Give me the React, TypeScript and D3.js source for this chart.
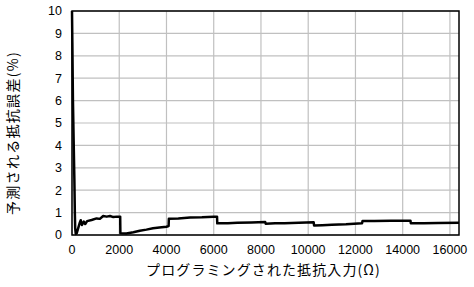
import React from "react";
import * as d3 from "d3";

// programmed resistance (ohm) and predicted error (%)
const resistance = [
  0, 15, 40, 70, 100, 120, 135, 160, 200, 260, 330, 370, 420, 500, 560, 640,
  830, 1040, 1180, 1320, 1470, 1610, 1750, 1900, 2040, 2048, 2300, 2600, 2870,
  3150, 3430, 3700, 4000, 4090, 4100, 4500, 5000, 5500, 6000, 6140, 6150, 6600,
  7000, 7600, 8180, 8200, 8600, 9000, 9600, 10230, 10250, 10600, 11000, 11600,
  12280, 12300, 12800, 13500, 14330, 14345, 14900, 15500, 16383,
];
const errorPct = [
  10, 8.6, 6, 4.2, 2.5, 1.0, 0.3, 0.05, 0.08, 0.3, 0.55, 0.66, 0.45, 0.6, 0.49,
  0.62, 0.67, 0.74, 0.72, 0.85, 0.82, 0.85, 0.8, 0.82, 0.82, 0.08, 0.07, 0.12,
  0.19, 0.24, 0.3, 0.33, 0.37, 0.4, 0.72, 0.74, 0.78, 0.79, 0.82, 0.82, 0.52,
  0.53, 0.55, 0.56, 0.58, 0.5, 0.52, 0.53, 0.55, 0.57, 0.42, 0.44, 0.46, 0.48,
  0.52, 0.62, 0.62, 0.64, 0.64, 0.52, 0.53, 0.54, 0.55,
];
const xTicks = [0, 2000, 4000, 6000, 8000, 10000, 12000, 14000, 16000];
const yTicks = [0, 1, 2, 3, 4, 5, 6, 7, 8, 9, 10];

const xTitle = "プログラミングされた抵抗入力(Ω)";
const yTitle = "予測される抵抗誤差(%)";

export default function App() {
  const width = 474;
  const height = 287;
  const margin = { top: 11, right: 15, bottom: 52, left: 72 };
  const iw = width - margin.left - margin.right;
  const ih = height - margin.top - margin.bottom;

  const x = d3.scaleLinear().domain([0, 16384]).range([0, iw]);
  const y = d3.scaleLinear().domain([0, 10]).range([ih, 0]);

  const pts: [number, number][] = resistance.map((r, i) => [r, errorPct[i]]);
  const line = d3
    .line<[number, number]>()
    .x((d) => x(d[0]))
    .y((d) => y(d[1]));

  const numFont = "'Liberation Sans', Arial, sans-serif";
  const jpFont = "'Noto Sans CJK JP', sans-serif";

  return (
    <svg
      width={width}
      height={height}
      style={{ position: "absolute", left: 0, top: 0, background: "#fff" }}
    >
      <g transform={`translate(${margin.left},${margin.top})`}>
        {xTicks.map((t) => (
          <line key={"gx" + t} x1={x(t)} x2={x(t)} y1={0} y2={ih} stroke="#c0c0c0" strokeWidth={1.2} />
        ))}
        {yTicks.map((t) => (
          <line key={"gy" + t} x1={0} x2={iw} y1={y(t)} y2={y(t)} stroke="#c0c0c0" strokeWidth={1.2} />
        ))}
        <rect x={0} y={0} width={iw} height={ih} fill="none" stroke="#000" strokeWidth={1.5} />
        <path d={line(pts) || ""} fill="none" stroke="#000" strokeWidth={2.5} strokeLinejoin="round" />
        {xTicks.map((t) => (
          <text key={"tx" + t} x={x(t)} y={ih + 19} textAnchor="middle" fontFamily={numFont} fontSize={12.5}>
            {t}
          </text>
        ))}
        {yTicks.map((t) => (
          <text key={"ty" + t} x={-10} y={y(t)} dy="0.35em" textAnchor="end" fontFamily={numFont} fontSize={12.5}>
            {t}
          </text>
        ))}
        <text
          x={iw / 2 - 2}
          y={ih + 40}
          textAnchor="middle"
          fontFamily={jpFont}
          fontSize={14}
          letterSpacing={1.1}
        >
          {xTitle}
        </text>
        <text
          transform={`translate(${-54},${ih / 2 + 10}) rotate(-90)`}
          textAnchor="middle"
          fontFamily={jpFont}
          fontSize={14}
          letterSpacing={1.3}
        >
          {yTitle}
        </text>
      </g>
    </svg>
  );
}
